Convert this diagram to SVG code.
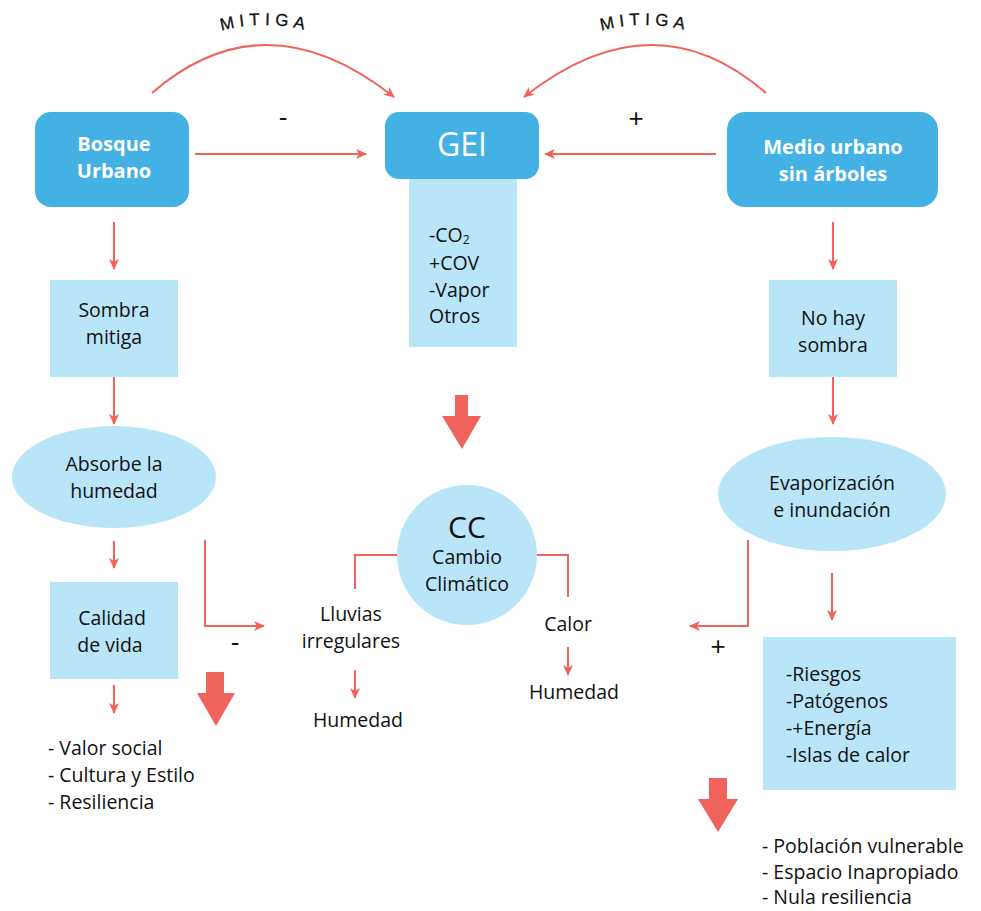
<svg xmlns="http://www.w3.org/2000/svg" width="981" height="911" viewBox="0 0 981 911">
<defs>
<marker id="ah" markerWidth="12" markerHeight="12" refX="10" refY="5" orient="auto" markerUnits="userSpaceOnUse">
<path d="M0,0 L11,5 L0,10 L3,5 z" fill="#F0625C"/>
</marker>
<path id="arcL" d="M190,42 Q265,8 340,42"/>
<path id="arcR" d="M570,42 Q645,8 720,42"/>
<style>
.ln{fill:none;stroke:#F0625C;stroke-width:2}
.dk{fill:#43B1E4}
.lt{fill:#B9E5F9}
.t{font-family:"Open Sans","Noto Sans",sans-serif;font-size:19.5px;fill:#111;text-anchor:middle}
.tl{font-family:"Open Sans","Noto Sans",sans-serif;font-size:19.5px;fill:#111}
.w{font-family:"Open Sans","Noto Sans",sans-serif;font-weight:bold;font-size:20px;fill:#fff;text-anchor:middle}
.mi{font-family:"Liberation Sans",Arial,sans-serif;font-size:17px;letter-spacing:5px;fill:#111;stroke:#111;stroke-width:0.3}
.sg{font-family:"Liberation Sans",Arial,sans-serif;font-size:26px;fill:#111;text-anchor:middle}
.big{fill:#F0625C}
</style>
</defs>
<rect width="981" height="911" fill="#fff"/>

<g id="connectors">
<path class="ln" d="M152,93 Q265,-5 394,97" marker-end="url(#ah)"/>
<path class="ln" d="M766,93 Q653,-5 524,97" marker-end="url(#ah)"/>
<path class="ln" d="M195,154 H366" marker-end="url(#ah)"/>
<path class="ln" d="M716,154 H545" marker-end="url(#ah)"/>
<path class="ln" d="M114,222 V269" marker-end="url(#ah)"/>
<path class="ln" d="M114,377 V424" marker-end="url(#ah)"/>
<path class="ln" d="M114,541 V568" marker-end="url(#ah)"/>
<path class="ln" d="M114,685 V713" marker-end="url(#ah)"/>
<path class="ln" d="M205,540 V626 H264" marker-end="url(#ah)"/>
<path class="ln" d="M833,222 V269" marker-end="url(#ah)"/>
<path class="ln" d="M833,377 V424" marker-end="url(#ah)"/>
<path class="ln" d="M832,573 V620" marker-end="url(#ah)"/>
<path class="ln" d="M748,540 V626 H690" marker-end="url(#ah)"/>
<path class="ln" d="M400,555 H355 V589"/>
<path class="ln" d="M534,555 H568 V597"/>
<path class="ln" d="M355,670 V698" marker-end="url(#ah)"/>
<path class="ln" d="M568,647 V675" marker-end="url(#ah)"/>
<path class="big" d="M455,395 H468 V416 H481 L462,449 L442,416 H455 z"/>
<path class="big" d="M206,672 H224 V693 H235 L216,726 L197,693 H206 z"/>
<path class="big" d="M709,778 H727 V799 H738 L718,832 L698,799 H709 z"/>
<text class="mi"><textPath href="#arcL" startOffset="50%" text-anchor="middle">MITIGA</textPath></text>
<text class="mi"><textPath href="#arcR" startOffset="50%" text-anchor="middle">MITIGA</textPath></text>
<text class="sg" x="283" y="126">-</text>
<text class="sg" x="636" y="127">+</text>
<text class="sg" x="235" y="651">-</text>
<text class="sg" x="718" y="655">+</text>
</g>

<g id="bosque">
<rect class="dk" x="35" y="112" width="154" height="95" rx="16"/>
<text class="w" x="114" y="151">Bosque</text>
<text class="w" x="114" y="178">Urbano</text>
</g>

<g id="gei">
<rect class="lt" x="409" y="175" width="108" height="172"/>
<rect class="dk" x="385" y="112" width="154" height="67" rx="14"/>
<text class="w" x="462" y="156" style="font-size:32px;font-weight:normal">GEI</text>
<text class="tl" x="429" y="242">-CO<tspan font-size="12" dy="2">2</tspan></text>
<text class="tl" x="429" y="270">+COV</text>
<text class="tl" x="429" y="297">-Vapor</text>
<text class="tl" x="429" y="323">Otros</text>
</g>

<g id="medio">
<rect class="dk" x="727" y="112" width="211" height="95" rx="18"/>
<text class="w" x="833" y="154">Medio urbano</text>
<text class="w" x="833" y="181">sin árboles</text>
</g>

<g id="sombra">
<rect class="lt" x="50" y="280" width="128" height="97"/>
<text class="t" x="114" y="317">Sombra</text>
<text class="t" x="114" y="344">mitiga</text>
</g>

<g id="absorbe">
<ellipse class="lt" cx="114" cy="477" rx="102" ry="51"/>
<text class="t" x="114" y="471">Absorbe la</text>
<text class="t" x="114" y="498">humedad</text>
</g>

<g id="calidad">
<rect class="lt" x="50" y="582" width="128" height="97"/>
<text class="t" x="112" y="625">Calidad</text>
<text class="t" x="110" y="652">de vida</text>
</g>

<g id="lista-izq">
<text class="tl" x="48" y="755">- Valor social</text>
<text class="tl" x="48" y="782">- Cultura y Estilo</text>
<text class="tl" x="48" y="809">- Resiliencia</text>
</g>

<g id="cc">
<circle class="lt" cx="467" cy="555" r="70"/>
<text class="t" x="467" y="538" style="font-size:30px">CC</text>
<text class="t" x="467" y="564">Cambio</text>
<text class="t" x="467" y="591">Climático</text>
</g>

<g id="lluvias">
<text class="t" x="351" y="621">Lluvias</text>
<text class="t" x="351" y="648">irregulares</text>
</g>
<g id="humedad1"><text class="t" x="358" y="727">Humedad</text></g>
<g id="calor"><text class="t" x="568" y="631">Calor</text></g>
<g id="humedad2"><text class="t" x="574" y="699">Humedad</text></g>

<g id="nohay">
<rect class="lt" x="769" y="280" width="128" height="97"/>
<text class="t" x="833" y="325">No hay</text>
<text class="t" x="833" y="352">sombra</text>
</g>

<g id="evapo">
<ellipse class="lt" cx="832" cy="494" rx="114" ry="57"/>
<text class="t" x="832" y="490">Evaporización</text>
<text class="t" x="832" y="517">e inundación</text>
</g>

<g id="riesgos">
<rect class="lt" x="763" y="637" width="193" height="153"/>
<text class="tl" x="786" y="681">-Riesgos</text>
<text class="tl" x="786" y="708">-Patógenos</text>
<text class="tl" x="786" y="735">-+Energía</text>
<text class="tl" x="786" y="762">-Islas de calor</text>
</g>

<g id="lista-der">
<text class="tl" x="762" y="853">- Población vulnerable</text>
<text class="tl" x="762" y="879">- Espacio Inapropiado</text>
<text class="tl" x="762" y="904">- Nula resiliencia</text>
</g>
</svg>
